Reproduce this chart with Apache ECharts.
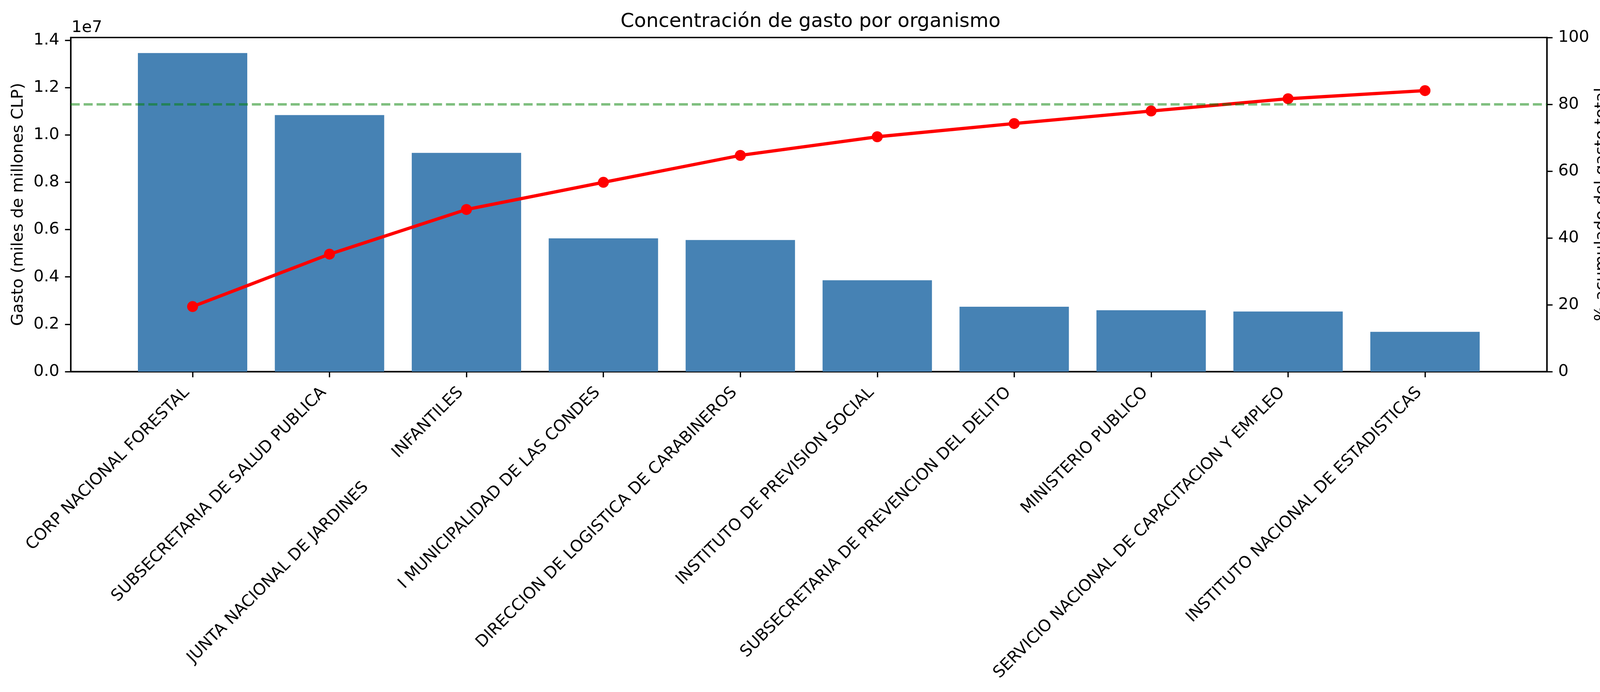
<!DOCTYPE html>
<html>
<head>
<meta charset="utf-8">
<title>Concentración de gasto por organismo</title>
<script src="https://cdn.jsdelivr.net/npm/echarts@6/dist/echarts.min.js"></script>
<style>
  html, body { margin: 0; padding: 0; background: #ffffff; }
  #chart { width: 4154px; height: 1771px; }
</style>
</head>
<body>
<div id="chart"></div>
<script>
  // organismos, ordenados por gasto
  var organismos = [
    "CORP NACIONAL FORESTAL",
    "SUBSECRETARIA DE SALUD PUBLICA",
    "JUNTA NACIONAL DE JARDINES        INFANTILES",
    "I MUNICIPALIDAD DE LAS CONDES",
    "DIRECCION DE LOGISTICA DE CARABINEROS",
    "INSTITUTO DE PREVISION SOCIAL",
    "SUBSECRETARIA DE PREVENCION DEL DELITO",
    "MINISTERIO PUBLICO",
    "SERVICIO NACIONAL DE CAPACITACION Y EMPLEO",
    "INSTITUTO NACIONAL DE ESTADISTICAS"
  ];
  var gasto = [13460000, 10840000, 9240000, 5630000, 5560000, 3860000, 2740000, 2590000, 2540000, 1680000];
  var acumulado = [19.47, 35.15, 48.52, 56.66, 64.71, 70.29, 74.25, 78.0, 81.67, 84.1];
  var gastoTicks = [0, 2000000, 4000000, 6000000, 8000000, 10000000, 12000000, 14000000];
  var umbral = 80;

  var FONT = "DejaVu Sans";
  var PT = 300 / 72; // px por punto
  var idx = organismos.map(function (n, i) { return i; });

  var chart = echarts.init(document.getElementById("chart"), null, { renderer: "canvas" });

  var axisLine = { show: true, onZero: false, lineStyle: { color: "#000000", width: 0.8 * PT } };
  var axisTick = { show: true, length: 3.5 * PT, lineStyle: { color: "#000000", width: 0.8 * PT } };
  var labelStyle = { color: "#000000", fontFamily: FONT, fontSize: 10 * PT };
  var labelFont = (10 * PT) + "px '" + FONT + "'";

  // titulos de los ejes verticales, girados 90 grados
  function axisTitle(text, x) {
    return {
      type: "text",
      x: x,
      y: 523,
      rotation: Math.PI / 2,
      style: { text: text, fill: "#000000", font: labelFont, align: "center", verticalAlign: "middle" }
    };
  }

  chart.setOption({
    backgroundColor: "#ffffff",
    animation: false,
    title: {
      text: "Concentración de gasto por organismo",
      left: 2070,
      top: 26,
      textAlign: "center",
      textStyle: { color: "#000000", fontFamily: FONT, fontSize: 12 * PT, fontWeight: "normal" }
    },
    grid: {
      left: 181, right: 194, top: 96, bottom: 820,
      containLabel: false,
      outerBoundsMode: "none",
      show: true,
      borderColor: "#000000",
      borderWidth: 0.8 * PT,
      backgroundColor: "transparent"
    },
    graphic: [{
      type: "text",
      x: 183,
      y: 50,
      style: { text: "1e7", fill: "#000000", font: labelFont }
    },
      axisTitle("Gasto (miles de millones CLP)", 47),
      axisTitle("% acumulado del gasto total", 4100)
    ],
    xAxis: {
      type: "value",
      min: -0.89,
      max: 9.89,
      splitLine: { show: false },
      axisLine: axisLine,
      axisTick: Object.assign({}, axisTick, { customValues: idx }),
      axisLabel: Object.assign({}, labelStyle, {
        customValues: idx,
        rotate: 45,
        margin: 62,
        verticalAlign: "bottom",
        formatter: function (v) { return organismos[Math.round(v)]; }
      })
    },
    yAxis: [{
      type: "value",
      min: 0,
      max: 14116000,
      position: "left",
      splitLine: { show: false },
      axisLine: axisLine,
      axisTick: Object.assign({}, axisTick, { customValues: gastoTicks }),
      axisLabel: Object.assign({}, labelStyle, {
        customValues: gastoTicks,
        margin: 29,
        formatter: function (v) { return (v / 1e7).toFixed(1); }
      })
    }, {
      type: "value",
      min: 0,
      max: 100,
      interval: 20,
      position: "right",
      splitLine: { show: false },
      axisLine: axisLine,
      axisTick: axisTick,
      axisLabel: Object.assign({}, labelStyle, { margin: 29 })
    }],
    series: [{
      type: "bar",
      name: "Gasto",
      xAxisIndex: 0,
      yAxisIndex: 0,
      barWidth: 280,
      itemStyle: { color: "#4682B4" },
      data: gasto.map(function (v, i) { return [i, v]; })
    }, {
      type: "line",
      name: "% acumulado",
      xAxisIndex: 0,
      yAxisIndex: 1,
      symbol: "circle",
      symbolSize: 28,
      lineStyle: { color: "#ff0000", width: 2 * PT },
      itemStyle: { color: "#ff0000" },
      data: acumulado.map(function (v, i) { return [i, v]; }),
      markLine: {
        silent: true,
        symbol: "none",
        label: { show: false },
        lineStyle: { color: "rgba(0,128,0,0.5)", type: [3.7 * 1.5 * PT, 1.6 * 1.5 * PT], width: 1.5 * PT },
        data: [{ yAxis: umbral }]
      }
    }]
  });
</script>
</body>
</html>
